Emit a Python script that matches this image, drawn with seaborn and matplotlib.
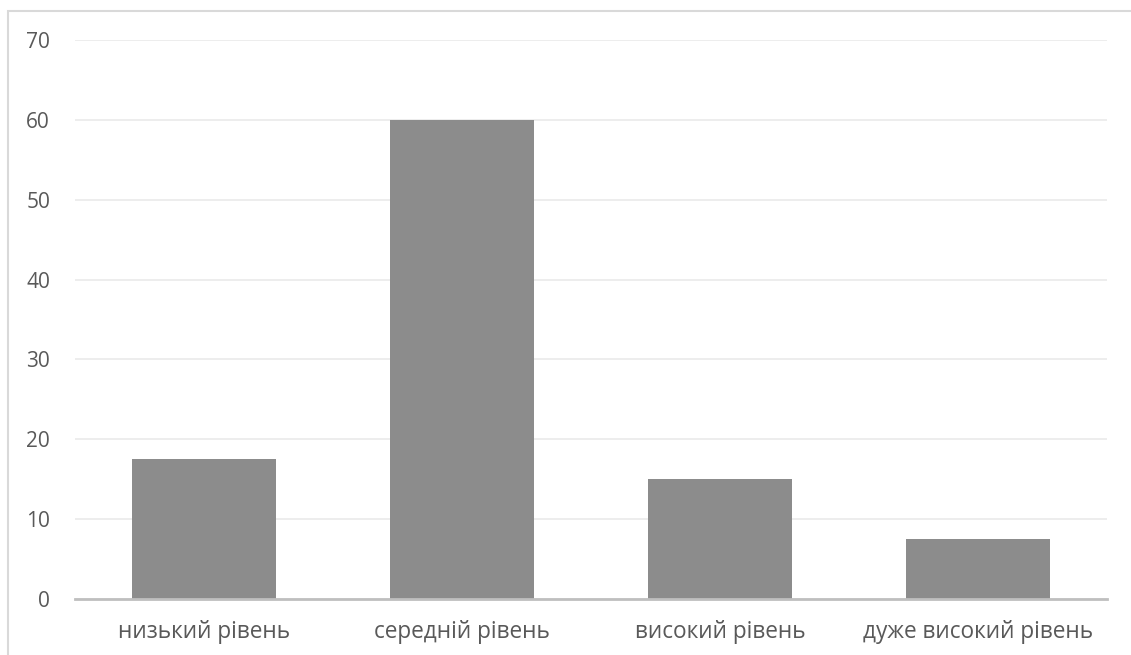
import matplotlib
matplotlib.use("Agg")
import matplotlib.pyplot as plt
import seaborn as sns
import pandas as pd
from matplotlib.patches import Rectangle

# data
levels = ["низький рівень", "середній рівень", "високий рівень", "дуже високий рівень"]
shares = [17.5, 60, 15, 7.5]
y_ticks = [0, 10, 20, 30, 40, 50, 60, 70]

df = pd.DataFrame({"level": levels, "share": shares})

sns.set_theme(style="white")
plt.rcParams["font.family"] = ["Open Sans", "DejaVu Sans"]

fig = plt.figure(figsize=(11.31, 6.55), dpi=100, facecolor="white")
W, H = 1131, 655
ax = fig.add_axes([75 / W, (H - 599) / H, (1107 - 75) / W, (599 - 40) / H])

sns.barplot(data=df, x="level", y="share", color="#8c8c8c", saturation=1,
            width=0.56, linewidth=0, ax=ax, zorder=3)

ax.set_ylim(0, 70)
ax.set_xlim(-0.5, 3.5)
ax.set_yticks(y_ticks)
ax.grid(axis="y", color="#ececec", linewidth=1.3, zorder=0)
ax.set_axisbelow(True)
ax.set_xlabel("")
ax.set_ylabel("")
for s in ["top", "right", "left"]:
    ax.spines[s].set_visible(False)
ax.spines["bottom"].set_color("#bfbfbf")
ax.spines["bottom"].set_linewidth(2)
ax.spines["bottom"].set_zorder(4)
ax.tick_params(axis="both", length=0, colors="#595959")
ax.tick_params(axis="y", pad=18, labelsize=15)
ax.tick_params(axis="x", pad=15, labelsize=16.3)

# outer frame, only top and left edges visible in the reference
fig.patches.append(Rectangle((8 / W, -0.1), 1.2, (H - 11) / H + 0.1,
                             transform=fig.transFigure, fill=False,
                             edgecolor="#d9d9d9", linewidth=1.5))

fig.savefig("out.png", dpi=100, facecolor="white")
